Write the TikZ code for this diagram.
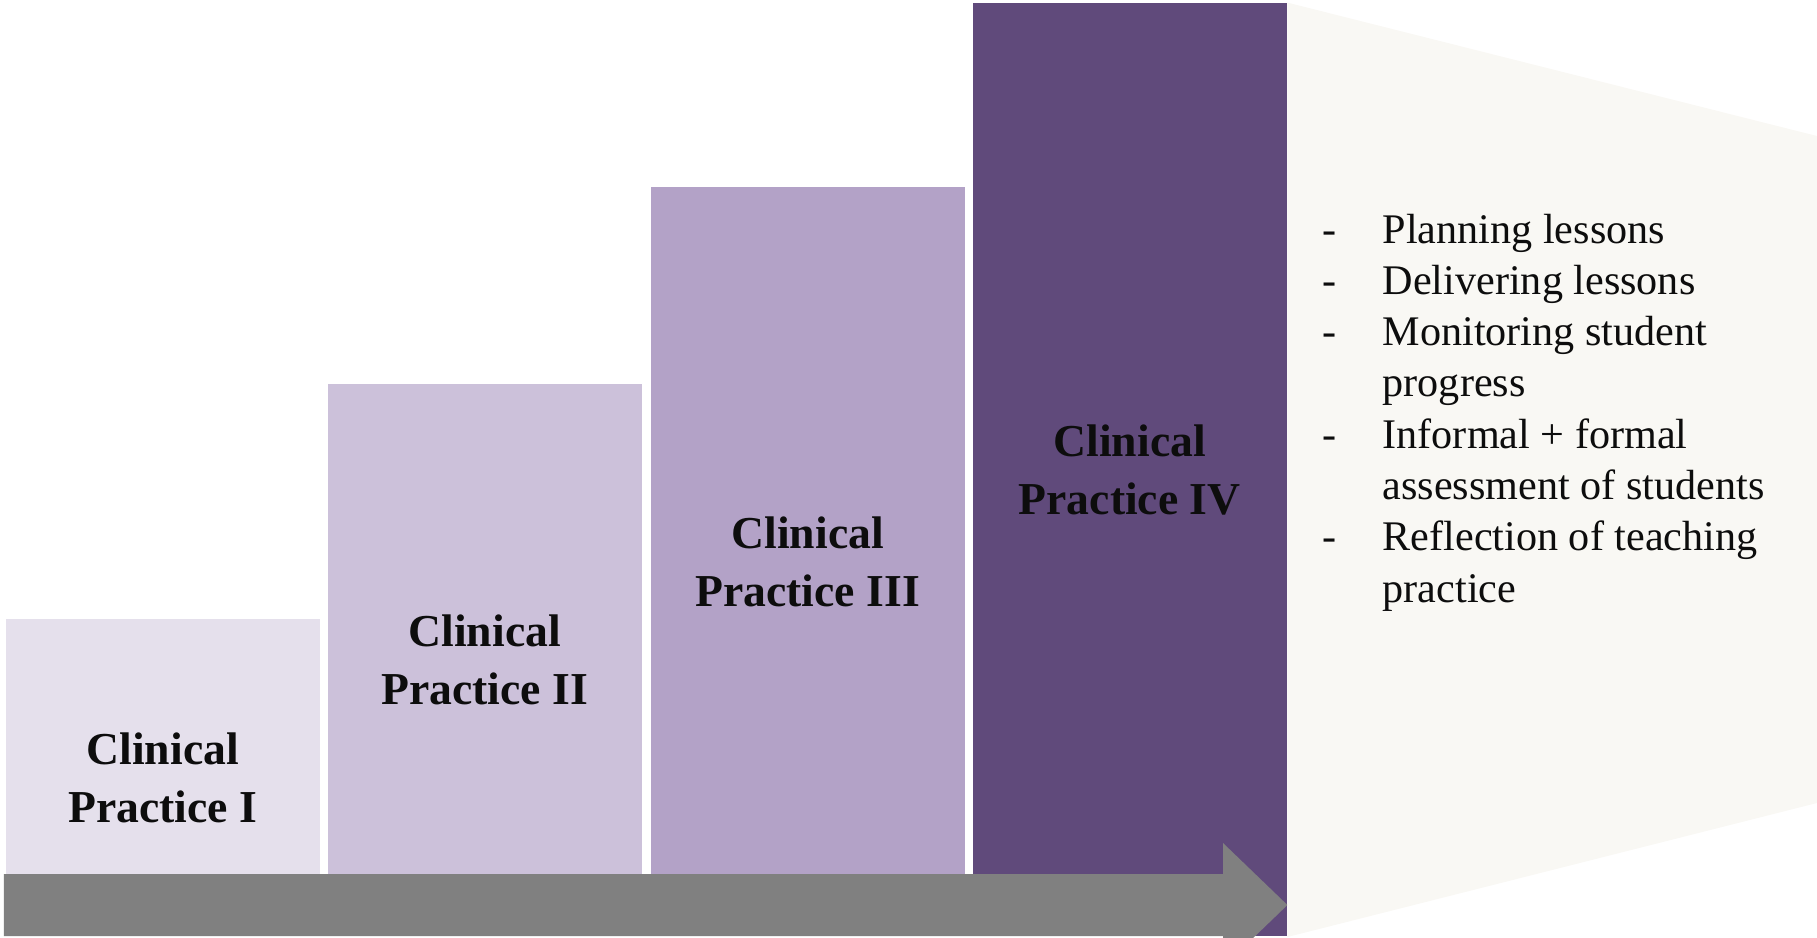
\documentclass[tikz,border=0pt]{standalone}
\usepackage{fontspec}
\setmainfont{Liberation Serif}
\usepackage{xcolor}
\usepackage{tikz}
\usetikzlibrary{positioning,calc}
\definecolor{cpPale}{HTML}{E5E0EC}
\definecolor{cpLight}{HTML}{CCC1DA}
\definecolor{cpMid}{HTML}{B3A2C7}
\definecolor{cpDark}{HTML}{604A7B}
\definecolor{cpPanel}{HTML}{F9F8F4}
\definecolor{cpArrow}{HTML}{808080}
\definecolor{cpText}{HTML}{0D0D0D}
\newcommand{\cpbox}[5]{%
 \node[fill=#4, minimum width=3.14cm, minimum height=#3cm, inner sep=0pt, anchor=south west, align=center, text=cpText, font=\fontsize{13}{16.5}\selectfont\bfseries] (#2) at (#1,0) {#5};%
}

\begin{document}
\begin{tikzpicture}
\useasboundingbox (0,0) rectangle (18.17,9.37);
\clip (0,0) rectangle (18.17,9.37);
\cpbox{0.05}{cp1}{3.17}{cpPale}{Clinical\\Practice I}
\cpbox{3.27}{cp2}{5.52}{cpLight}{Clinical\\Practice II}
\cpbox{6.50}{cp3}{7.49}{cpMid}{Clinical\\Practice III}
\cpbox{9.72}{cp4}{9.33}{cpDark}{Clinical\\Practice IV}
% fan-out panel next to the last stage
\fill[cpPanel] (cp4.north east) -- (18.17,8.01) -- (18.17,1.34) -- (cp4.south east) -- cycle;
\node[anchor=base west, inner sep=0pt, text=cpText, font=\fontsize{12}{14.6}\selectfont] (tasks) at (13.22,6.94) {%
 \begin{tabular}[t]{@{}p{0.6cm}@{}l@{}}
 - & Planning lessons\\
 - & Delivering lessons\\
 - & Monitoring student\\
   & progress\\
 - & Informal + formal\\
   & assessment of students\\
 - & Reflection of teaching\\
   & practice
 \end{tabular}};
% progression arrow along the bottom
\fill[cpArrow] (0.04,0.01) -- (0.04,0.63) -- (12.23,0.63) -- (12.23,0.94)
 -- ($(cp4.south east)+(0,0.32)$) -- (12.23,-0.30) -- (12.23,0.01) -- cycle;
\end{tikzpicture}
\end{document}
